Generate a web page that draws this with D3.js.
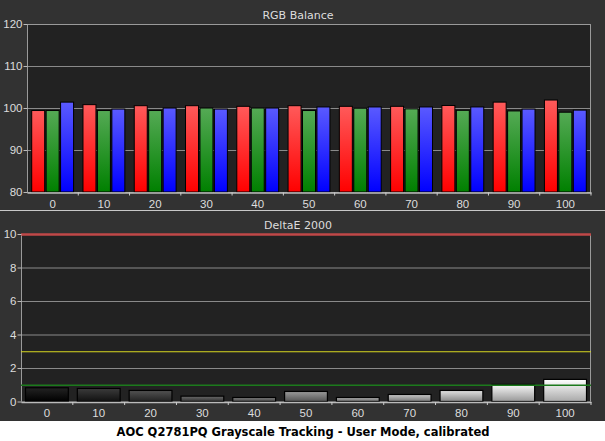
<!DOCTYPE html>
<html>
<head>
  <script src="https://cdnjs.cloudflare.com/ajax/libs/d3/7.8.5/d3.min.js"></script>
  <style>
    body, html { margin: 0; padding: 0; background: #fff; }
    svg { display: block; font-family: "DejaVu Sans", sans-serif; }
  </style>
</head>
<body>
<div id="chart"></div>
<script>
// grayscale steps
const levels = ["0", "10", "20", "30", "40", "50", "60", "70", "80", "90", "100"];
// RGB balance (%)
const redVals   = [99.4, 100.8, 100.55, 100.55, 100.4, 100.55, 100.4, 100.4, 100.6, 101.4, 101.9];
const greenVals = [99.4, 99.4, 99.4, 100.0, 100.0, 99.4, 99.95, 99.8, 99.45, 99.3, 99.0];
const blueVals  = [101.4, 99.75, 100.0, 99.75, 100.0, 100.25, 100.25, 100.25, 100.25, 99.75, 99.5];
// DeltaE 2000
const deltaE = [0.82, 0.78, 0.66, 0.32, 0.24, 0.6, 0.24, 0.42, 0.66, 1.02, 1.32];
const rgbTicks = [80, 90, 100, 110, 120];
const deTicks = [0, 2, 4, 6, 8, 10];
const refLines = [{v: 10, c: "#c04848", w: 2.4}, {v: 3, c: "#d8d820", w: 1}, {v: 1, c: "#1c7a1c", w: 1.4}];

const W = 605, H = 441;
const svg = d3.select("#chart").append("svg").attr("width", W).attr("height", H);
const defs = svg.append("defs");

function grad(id, top, bottom) {
  const g = defs.append("linearGradient").attr("id", id)
    .attr("x1", 0).attr("y1", 0).attr("x2", 0).attr("y2", 1);
  g.append("stop").attr("offset", "0%").attr("stop-color", top);
  g.append("stop").attr("offset", "100%").attr("stop-color", bottom);
}
grad("gR", "#ff5a5a", "#ff0000");
grad("gG", "#55aa55", "#008000");
grad("gB", "#5a5aff", "#0000ff");
levels.forEach((l, i) => {
  const v = +l / 100;
  const top = d3.interpolateRgb("#101010", "#ffffff")(Math.min(1, v + 0.08));
  const bot = d3.interpolateRgb("#000000", "#a8a8a8")(v);
  grad("gK" + i, top, bot);
});

// panel backgrounds
svg.append("rect").attr("width", W).attr("height", 421).attr("fill", "#323232");
svg.append("line").attr("x1", 0).attr("x2", W).attr("y1", 210.5).attr("y2", 210.5)
  .attr("stroke", "#c8c8c8").attr("stroke-width", 1.2);

function panel(o) {
  const g = svg.append("g");
  const x = d3.scaleBand().domain(levels).range([o.left, o.right]);
  const y = d3.scaleLinear().domain(o.domain).range([o.bottom, o.top]);

  g.append("rect").attr("x", o.left).attr("y", o.top)
    .attr("width", o.right - o.left).attr("height", o.bottom - o.top).attr("fill", "#222");

  g.append("g").selectAll("line").data(o.ticks).join("line")
    .attr("x1", o.left).attr("x2", o.right)
    .attr("y1", d => y(d) + 0.5).attr("y2", d => y(d) + 0.5)
    .attr("stroke", "#8a8a8a").attr("stroke-width", 1);

  o.draw(g, x, y);

  // frame
  g.append("path")
    .attr("d", `M${o.left + 0.5},${o.bottom}V${o.top + 0.5}H${o.right - 0.5}V${o.bottom}`)
    .attr("fill", "none").attr("stroke", "#9a9a9a");

  if (o.after) o.after(g, x, y);

  const ya = g.append("g").attr("transform", `translate(${o.left + 0.5},0)`)
    .call(d3.axisLeft(y).tickValues(o.ticks).tickSize(4).tickPadding(1));
  ya.select(".domain").remove();
  ya.selectAll("line").attr("stroke", "#bbb");
  ya.selectAll("text").attr("fill", "#ddd").attr("font-size", 11.5);

  const xa = g.append("g").attr("transform", `translate(0,${o.bottom + 0.5})`)
    .call(d3.axisBottom(x).tickSize(0).tickPadding(7));
  xa.select(".domain").attr("stroke", "#bbb").attr("stroke-width", 1.5);
  xa.selectAll("text").attr("fill", "#ddd").attr("font-size", 11.5);
  xa.append("g").selectAll("line").data(levels).join("line")
    .attr("x1", d => x(d) + x.bandwidth()).attr("x2", d => x(d) + x.bandwidth())
    .attr("y1", 0).attr("y2", 3).attr("stroke", "#ccc");

  g.append("text").attr("x", 298).attr("y", o.top - 5).attr("text-anchor", "middle")
    .attr("fill", "#ddd").attr("font-size", 11).text(o.title);
}

// RGB Balance
panel({
  left: 27, right: 591, top: 24, bottom: 192, domain: [80, 120], ticks: rgbTicks,
  title: "RGB Balance",
  draw(g, x, y) {
    const inner = d3.scaleBand().domain([0, 1, 2]).range([4.7, x.bandwidth() - 4.7]).paddingInner(0.1);
    const series = [redVals, greenVals, blueVals];
    const fills = ["url(#gR)", "url(#gG)", "url(#gB)"];
    series.forEach((vals, s) => {
      g.append("g").selectAll("rect").data(vals).join("rect")
        .attr("x", (d, i) => x(levels[i]) + inner(s))
        .attr("y", d => y(d))
        .attr("width", inner.bandwidth())
        .attr("height", d => y(80) - y(d))
        .attr("fill", fills[s]).attr("stroke", "#000").attr("stroke-width", 1);
    });
  }
});

// DeltaE 2000
panel({
  left: 21, right: 591, top: 234, bottom: 401.5, domain: [0, 10], ticks: deTicks,
  title: "DeltaE 2000",
  draw(g, x, y) {
    g.append("g").selectAll("rect").data(deltaE).join("rect")
      .attr("x", (d, i) => x(levels[i]) + 4.5)
      .attr("y", d => y(d))
      .attr("width", x.bandwidth() - 9)
      .attr("height", d => y(0) - y(d))
      .attr("fill", (d, i) => `url(#gK${i})`).attr("stroke", "#000").attr("stroke-width", 1.2);
  },
  after(g, x, y) {
    g.append("g").selectAll("line").data(refLines).join("line")
      .attr("x1", 21).attr("x2", 591)
      .attr("y1", d => y(d.v) + 0.5).attr("y2", d => y(d.v) + 0.5)
      .attr("stroke", d => d.c).attr("stroke-width", d => d.w);
  }
});

svg.append("text").attr("x", 303).attr("y", 436).attr("text-anchor", "middle")
  .attr("font-size", 11.5).attr("font-weight", "bold").attr("fill", "#000")
  .text("AOC Q2781PQ Grayscale Tracking - User Mode, calibrated");
</script>
</body>
</html>
